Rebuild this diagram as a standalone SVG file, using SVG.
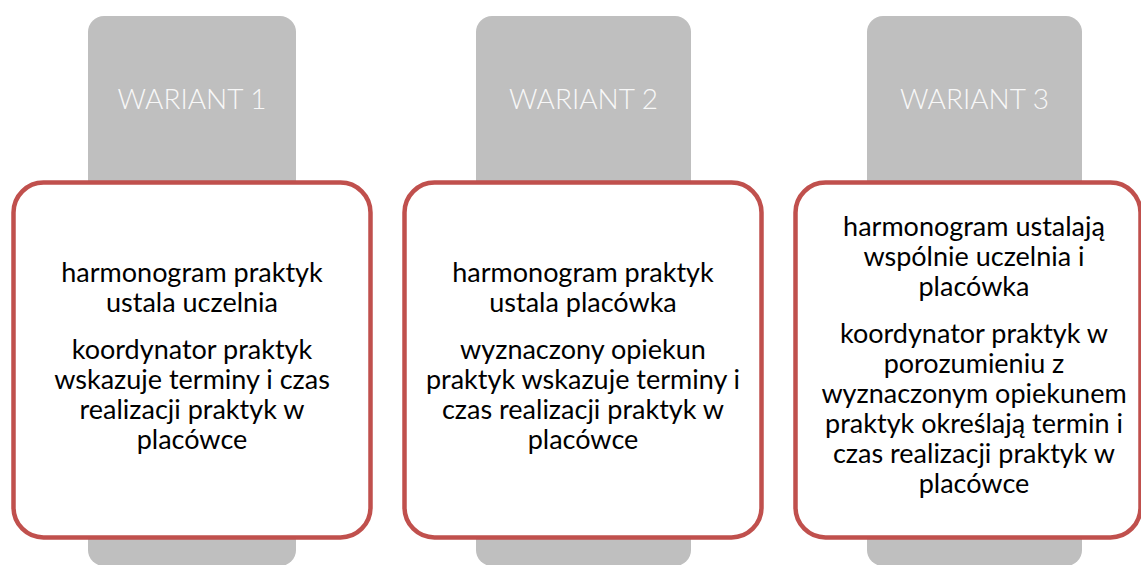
<svg xmlns="http://www.w3.org/2000/svg" width="1141" height="565" viewBox="0 0 1141 565">
<style>
.tab{fill:#bfbfbf}
.card{fill:#ffffff;stroke:#c0504d;stroke-width:4.5}
.title{font-family:Lato,"Open Sans","Liberation Sans",sans-serif;font-weight:300;font-size:28px;fill:#f8f8f8;text-anchor:middle}
.body{font-family:Lato,"Open Sans","Liberation Sans",sans-serif;font-size:27px;fill:#000000;text-anchor:middle}
</style>
<rect width="1141" height="565" fill="#ffffff"/>
<g id="wariant1">
<rect class="tab" x="88" y="16" width="208" height="550" rx="16"/>
<text class="title" x="192" y="109">WARIANT 1</text>
<rect class="card" x="13.5" y="182.5" width="357" height="355" rx="30"/>
<text class="body" x="192"><tspan x="192" y="282">harmonogram  praktyk</tspan><tspan x="192" y="312">ustala uczelnia</tspan><tspan x="192" y="359">koordynator praktyk</tspan><tspan x="192" y="389">wskazuje terminy i czas</tspan><tspan x="192" y="419">realizacji praktyk w</tspan><tspan x="192" y="449">placówce</tspan></text>
</g>
<g id="wariant2">
<rect class="tab" x="476" y="16" width="215" height="550" rx="16"/>
<text class="title" x="583.5" y="109">WARIANT 2</text>
<rect class="card" x="404.5" y="182.5" width="357" height="355" rx="30"/>
<text class="body" x="583"><tspan x="583" y="282">harmonogram praktyk</tspan><tspan x="583" y="312">ustala placówka</tspan><tspan x="583" y="359">wyznaczony opiekun</tspan><tspan x="583" y="389">praktyk wskazuje terminy i</tspan><tspan x="583" y="419">czas realizacji praktyk w</tspan><tspan x="583" y="449">placówce</tspan></text>
</g>
<g id="wariant3">
<rect class="tab" x="867" y="16" width="215" height="550" rx="16"/>
<text class="title" x="974.5" y="109">WARIANT 3</text>
<rect class="card" x="795.5" y="182.5" width="345" height="355" rx="30"/>
<text class="body" x="974"><tspan x="974" y="236">harmonogram ustalają</tspan><tspan x="974" y="266">wspólnie uczelnia i</tspan><tspan x="974" y="296">placówka</tspan><tspan x="974" y="343">koordynator praktyk w</tspan><tspan x="974" y="373">porozumieniu z</tspan><tspan x="974" y="403">wyznaczonym opiekunem</tspan><tspan x="974" y="433">praktyk określają termin i</tspan><tspan x="974" y="463">czas realizacji praktyk w</tspan><tspan x="974" y="493">placówce</tspan></text>
</g>
<g id="connectors"/>
</svg>
